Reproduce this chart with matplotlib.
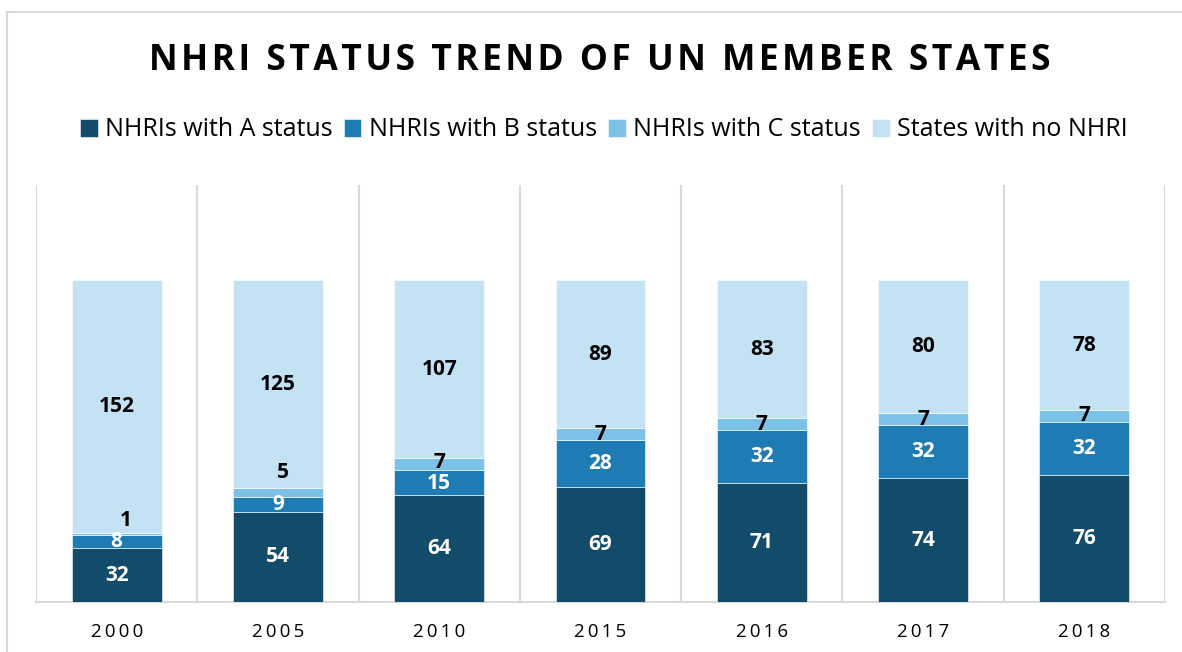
import numpy as np
import matplotlib.pyplot as plt
from matplotlib.patches import Rectangle

# donnees
annees = ["2000", "2005", "2010", "2015", "2016", "2017", "2018"]
statut_a = [32, 54, 64, 69, 71, 74, 76]
statut_b = [8, 9, 15, 28, 32, 32, 32]
statut_c = [1, 5, 7, 7, 7, 7, 7]
sans_inst = [152, 125, 107, 89, 83, 80, 78]

series = [statut_a, statut_b, statut_c, sans_inst]
noms = ["NHRIs with A status", "NHRIs with B status",
        "NHRIs with C status", "States with no NHRI"]
couleurs = ["#134B6A", "#1F7BB4", "#7CC1E8", "#C3E3F5"]
couleurs_txt = ["white", "white", "black", "black"]

FAM = ["Open Sans", "DejaVu Sans"]
plt.rcParams["font.family"] = FAM

THIN = "\u2009"
HAIR = "\u200A"


def espace(s, sep=THIN):
    return sep.join(s)


fig = plt.figure(figsize=(11.82, 6.52), dpi=100)
ax = fig.add_axes([36 / 1182, 50.3 / 652, (1165 - 36) / 1182, (601.7 - 185) / 652])

# cadre du graphique
fig.patches.append(Rectangle((7 / 1182, -0.1), 1.2, 1 - 12 / 652 + 0.1,
                             transform=fig.transFigure, fill=False,
                             edgecolor="#D9D9D9", lw=1.5))

x = np.arange(len(annees))
bas = np.zeros(len(annees))
for k_s, (vals, nom, c, ct) in enumerate(zip(series, noms, couleurs, couleurs_txt)):
    vals = np.array(vals, dtype=float)
    ax.bar(x, vals, bottom=bas, width=0.558, color=c, edgecolor="white",
           linewidth=0.4, label=nom, zorder=3)
    for i, v in enumerate(vals):
        xi, yi = x[i], bas[i] + v / 2
        # etiquettes deplacees a la main dans l'original
        if k_s == 2 and i == 0:
            xi, yi = x[i] + 0.056, 49
        elif k_s == 2 and i == 1:
            xi, yi = x[i] + 0.03, 77.3
        elif k_s == 2 and i == 2:
            yi += 1.2
        elif k_s == 1 and i == 2:
            yi -= 0.8
        ax.text(xi, yi, f"{int(v)}", ha="center", va="center", color=ct,
                fontsize=15, fontweight="bold", zorder=4)
    bas += vals

ax.set_xlim(-0.5, len(annees) - 0.5)
ax.set_ylim(0, 250)
ax.set_yticks([])
ax.set_xticks(x)
ax.set_xticklabels([espace(a) for a in annees], fontsize=13.5)
ax.tick_params(axis="x", length=0, pad=15)
for sp in ["top", "left", "right"]:
    ax.spines[sp].set_visible(False)
ax.spines["bottom"].set_color("#D9D9D9")
ax.spines["bottom"].set_linewidth(1.5)
for k in range(len(annees) + 1):
    ax.axvline(k - 0.5, color="#D9D9D9", lw=1.5, zorder=1)

fig.text(0.507, 1 - 61 / 652, espace("NHRI STATUS TREND OF UN MEMBER STATES", HAIR),
         ha="center", va="center", fontsize=25.5, fontweight="bold")

fig.legend(loc="center", bbox_to_anchor=(0.511, 1 - 130 / 652), ncol=4,
           frameon=False, fontsize=18, handlelength=0.7, handleheight=0.7,
           handletextpad=0.3, columnspacing=0.45)

fig.savefig("out.png", dpi=100)
